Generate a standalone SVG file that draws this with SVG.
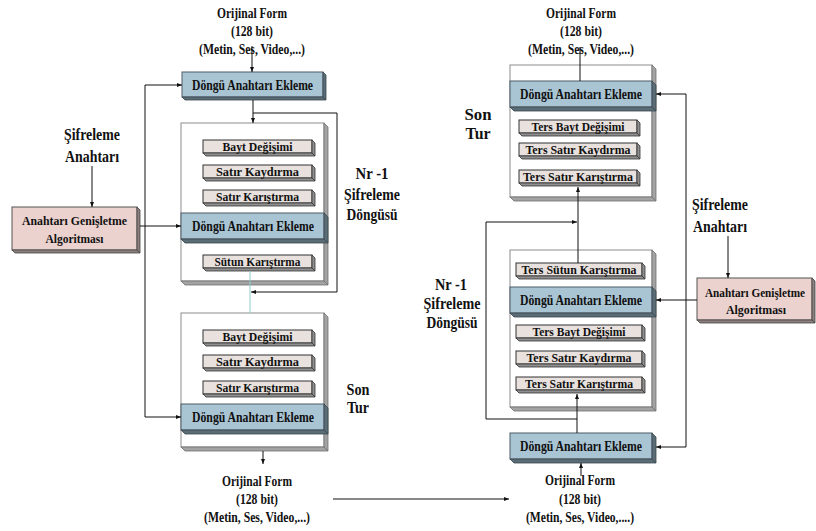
<svg xmlns="http://www.w3.org/2000/svg" width="816" height="531" viewBox="0 0 816 531">
  <style>
    text { font-family: "Liberation Serif", "Times New Roman", serif; font-weight: bold; fill: #111; text-anchor: middle; }
    .lbl { font-size: 16px; }
    .hdr { font-size: 15px; }
    .dk { font-size: 14px; }
    .sm { font-size: 12.5px; }
    .frame rect { fill: #ffffff; stroke: #8c8c8c; stroke-width: 1; }
    .frame polygon { fill: #a3a3a3; stroke: #6e6e6e; stroke-width: 0.8; }
    .round rect { fill: #a9c5d4; stroke: #4c5d66; stroke-width: 1; }
    .round polygon { fill: #5a6c76; stroke: #3a474e; stroke-width: 0.8; }
    .step rect { fill: #e8e1de; stroke: #333; stroke-width: 1; }
    .step polygon { fill: #8f8f8f; stroke: #333; stroke-width: 0.8; }
    .key rect { fill: #ebd2ce; stroke: #555; stroke-width: 1; }
    .key polygon { fill: #8c7f7d; stroke: #444; stroke-width: 0.8; }
    .conn path, .conn line { fill: none; stroke: #111; stroke-width: 1; }
    .conn .teal { stroke: #8fcfcf; stroke-width: 1; }
  </style>
  <defs>
    <marker id="arr" viewBox="0 0 5 4" refX="5" refY="2" markerWidth="5" markerHeight="4" markerUnits="userSpaceOnUse" orient="auto">
      <path d="M0,0 L5,2 L0,4 z" fill="#111"/>
    </marker>
  </defs>

  <!-- ===== Encryption (left) ===== -->
  <g id="enc-input">
    <text class="hdr" x="252" y="18" textLength="70" lengthAdjust="spacingAndGlyphs">Orijinal Form</text>
    <text class="hdr" x="252" y="36" textLength="42" lengthAdjust="spacingAndGlyphs">(128 bit)</text>
    <text class="hdr" x="252" y="54" textLength="106" lengthAdjust="spacingAndGlyphs">(Metin, Ses, Video,...)</text>
  </g>

  <g id="enc-initial-round" class="round">
    <rect x="182" y="72" width="141" height="25"/>
    <polygon points="323,72 326,75 326,100 323,97"/>
    <polygon points="182,97 323,97 326,100 185,100"/>
    <text class="dk" x="252.5" y="89.5" textLength="121" lengthAdjust="spacingAndGlyphs">Döngü Anahtarı Ekleme</text>
  </g>

  <g id="enc-main-rounds">
    <g class="frame">
      <rect x="181" y="123" width="143" height="158"/>
      <polygon points="324,123 328,127 328,285 324,281"/>
      <polygon points="181,281 324,281 328,285 185,285"/>
    </g>
    <g class="step">
      <rect x="203" y="140" width="109" height="13"/>
      <polygon points="312,140 315,143 315,156 312,153"/>
      <polygon points="203,153 312,153 315,156 206,156"/>
      <text class="sm" x="257.5" y="151" textLength="70" lengthAdjust="spacingAndGlyphs">Bayt Değişimi</text>
    </g>
    <g class="step">
      <rect x="203" y="165" width="109" height="13"/>
      <polygon points="312,165 315,168 315,181 312,178"/>
      <polygon points="203,178 312,178 315,181 206,181"/>
      <text class="sm" x="257.5" y="176" textLength="83" lengthAdjust="spacingAndGlyphs">Satır Kaydırma</text>
    </g>
    <g class="step">
      <rect x="203" y="190" width="109" height="13"/>
      <polygon points="312,190 315,193 315,206 312,203"/>
      <polygon points="203,203 312,203 315,206 206,206"/>
      <text class="sm" x="257.5" y="201" textLength="83" lengthAdjust="spacingAndGlyphs">Satır Karıştırma</text>
    </g>
    <g class="round">
      <rect x="181" y="213" width="143" height="26"/>
      <polygon points="324,213 328,217 328,243 324,239"/>
      <polygon points="181,239 324,239 328,243 185,243"/>
      <text class="dk" x="253" y="230.5" textLength="122" lengthAdjust="spacingAndGlyphs">Döngü Anahtarı Ekleme</text>
    </g>
    <g class="step">
      <rect x="203" y="255" width="109" height="13"/>
      <polygon points="312,255 315,258 315,271 312,268"/>
      <polygon points="203,268 312,268 315,271 206,271"/>
      <text class="sm" x="257.5" y="266" textLength="86" lengthAdjust="spacingAndGlyphs">Sütun Karıştırma</text>
    </g>
  </g>

  <g id="enc-final-round">
    <g class="frame">
      <rect x="181" y="313" width="143" height="134"/>
      <polygon points="324,313 328,317 328,451 324,447"/>
      <polygon points="181,447 324,447 328,451 185,451"/>
    </g>
    <g class="step">
      <rect x="203" y="330" width="109" height="13"/>
      <polygon points="312,330 315,333 315,346 312,343"/>
      <polygon points="203,343 312,343 315,346 206,346"/>
      <text class="sm" x="257.5" y="341" textLength="70" lengthAdjust="spacingAndGlyphs">Bayt Değişimi</text>
    </g>
    <g class="step">
      <rect x="203" y="355" width="109" height="13"/>
      <polygon points="312,355 315,358 315,371 312,368"/>
      <polygon points="203,368 312,368 315,371 206,371"/>
      <text class="sm" x="257.5" y="366" textLength="83" lengthAdjust="spacingAndGlyphs">Satır Kaydırma</text>
    </g>
    <g class="step">
      <rect x="203" y="381" width="109" height="13"/>
      <polygon points="312,381 315,384 315,397 312,394"/>
      <polygon points="203,394 312,394 315,397 206,397"/>
      <text class="sm" x="257.5" y="392" textLength="83" lengthAdjust="spacingAndGlyphs">Satır Karıştırma</text>
    </g>
    <g class="round">
      <rect x="181" y="404" width="143" height="26"/>
      <polygon points="324,404 328,408 328,434 324,430"/>
      <polygon points="181,430 324,430 328,434 185,434"/>
      <text class="dk" x="253" y="421.5" textLength="122" lengthAdjust="spacingAndGlyphs">Döngü Anahtarı Ekleme</text>
    </g>
  </g>

  <g id="enc-key-expansion" class="key">
    <rect x="12" y="207" width="125" height="43"/>
    <polygon points="137,207 140,210 140,253 137,250"/>
    <polygon points="12,250 137,250 140,253 15,253"/>
    <text class="sm" x="74.5" y="224.5" textLength="105" lengthAdjust="spacingAndGlyphs">Anahtarı Genişletme</text>
    <text class="sm" x="74.5" y="242.5" textLength="58" lengthAdjust="spacingAndGlyphs">Algoritması</text>
  </g>

  <g id="enc-labels">
    <text class="lbl" x="92" y="140" textLength="56" lengthAdjust="spacingAndGlyphs">Şifreleme</text>
    <text class="lbl" x="92" y="162" textLength="54" lengthAdjust="spacingAndGlyphs">Anahtarı</text>
    <text class="lbl" x="372" y="179" textLength="33" lengthAdjust="spacingAndGlyphs">Nr -1</text>
    <text class="lbl" x="372" y="200" textLength="56" lengthAdjust="spacingAndGlyphs">Şifreleme</text>
    <text class="lbl" x="372" y="220" textLength="51" lengthAdjust="spacingAndGlyphs">Döngüsü</text>
    <text class="lbl" x="358" y="395" textLength="23" lengthAdjust="spacingAndGlyphs">Son</text>
    <text class="lbl" x="358" y="413" textLength="22" lengthAdjust="spacingAndGlyphs">Tur</text>
  </g>

  <g id="enc-output">
    <text class="hdr" x="257" y="486" textLength="70" lengthAdjust="spacingAndGlyphs">Orijinal Form</text>
    <text class="hdr" x="257" y="504" textLength="42" lengthAdjust="spacingAndGlyphs">(128 bit)</text>
    <text class="hdr" x="257" y="522" textLength="106" lengthAdjust="spacingAndGlyphs">(Metin, Ses, Video,...)</text>
  </g>

  <!-- ===== Decryption (right) ===== -->
  <g id="dec-input">
    <text class="hdr" x="581" y="18" textLength="70" lengthAdjust="spacingAndGlyphs">Orijinal Form</text>
    <text class="hdr" x="581" y="36" textLength="42" lengthAdjust="spacingAndGlyphs">(128 bit)</text>
    <text class="hdr" x="581" y="54" textLength="106" lengthAdjust="spacingAndGlyphs">(Metin, Ses, Video,...)</text>
  </g>

  <g id="dec-final-round">
    <g class="frame">
      <rect x="510" y="65" width="142" height="132"/>
      <polygon points="652,65 656,69 656,201 652,197"/>
      <polygon points="510,197 652,197 656,201 514,201"/>
    </g>
    <g class="round">
      <rect x="510" y="81" width="142" height="26"/>
      <polygon points="652,81 656,85 656,111 652,107"/>
      <polygon points="510,107 652,107 656,111 514,111"/>
      <text class="dk" x="581" y="98.5" textLength="122" lengthAdjust="spacingAndGlyphs">Döngü Anahtarı Ekleme</text>
    </g>
    <g class="step">
      <rect x="519" y="120" width="118" height="13"/>
      <polygon points="637,120 640,123 640,136 637,133"/>
      <polygon points="519,133 637,133 640,136 522,136"/>
      <text class="sm" x="578" y="131" textLength="93" lengthAdjust="spacingAndGlyphs">Ters Bayt Değişimi</text>
    </g>
    <g class="step">
      <rect x="519" y="143" width="118" height="13"/>
      <polygon points="637,143 640,146 640,159 637,156"/>
      <polygon points="519,156 637,156 640,159 522,159"/>
      <text class="sm" x="578" y="154" textLength="105" lengthAdjust="spacingAndGlyphs">Ters Satır Kaydırma</text>
    </g>
    <g class="step">
      <rect x="519" y="170" width="118" height="13"/>
      <polygon points="637,170 640,173 640,186 637,183"/>
      <polygon points="519,183 637,183 640,186 522,186"/>
      <text class="sm" x="578" y="181" textLength="110" lengthAdjust="spacingAndGlyphs">Ters Satır Karıştırma</text>
    </g>
  </g>

  <g id="dec-main-rounds">
    <g class="frame">
      <rect x="510" y="250" width="142" height="157"/>
      <polygon points="652,250 656,254 656,411 652,407"/>
      <polygon points="510,407 652,407 656,411 514,411"/>
    </g>
    <g class="step">
      <rect x="516" y="263" width="126" height="13"/>
      <polygon points="642,263 645,266 645,279 642,276"/>
      <polygon points="516,276 642,276 645,279 519,279"/>
      <text class="sm" x="579" y="274" textLength="115" lengthAdjust="spacingAndGlyphs">Ters Sütun Karıştırma</text>
    </g>
    <g class="round">
      <rect x="510" y="287" width="142" height="26"/>
      <polygon points="652,287 656,291 656,317 652,313"/>
      <polygon points="510,313 652,313 656,317 514,317"/>
      <text class="dk" x="581" y="304.5" textLength="122" lengthAdjust="spacingAndGlyphs">Döngü Anahtarı Ekleme</text>
    </g>
    <g class="step">
      <rect x="516" y="325" width="126" height="13"/>
      <polygon points="642,325 645,328 645,341 642,338"/>
      <polygon points="516,338 642,338 645,341 519,341"/>
      <text class="sm" x="579" y="336" textLength="93" lengthAdjust="spacingAndGlyphs">Ters Bayt Değişimi</text>
    </g>
    <g class="step">
      <rect x="516" y="351" width="126" height="13"/>
      <polygon points="642,351 645,354 645,367 642,364"/>
      <polygon points="516,364 642,364 645,367 519,367"/>
      <text class="sm" x="579" y="362" textLength="105" lengthAdjust="spacingAndGlyphs">Ters Satır Kaydırma</text>
    </g>
    <g class="step">
      <rect x="516" y="377" width="126" height="13"/>
      <polygon points="642,377 645,380 645,393 642,390"/>
      <polygon points="516,390 642,390 645,393 519,393"/>
      <text class="sm" x="579" y="388" textLength="108" lengthAdjust="spacingAndGlyphs">Ters Satır Karıştırma</text>
    </g>
  </g>

  <g id="dec-initial-round" class="round">
    <rect x="510" y="433" width="142" height="26"/>
    <polygon points="652,433 656,437 656,463 652,459"/>
    <polygon points="510,459 652,459 656,463 514,463"/>
    <text class="dk" x="581" y="450.5" textLength="122" lengthAdjust="spacingAndGlyphs">Döngü Anahtarı Ekleme</text>
  </g>

  <g id="dec-key-expansion" class="key">
    <rect x="697" y="278" width="115" height="42"/>
    <polygon points="812,278 815,281 815,323 812,320"/>
    <polygon points="697,320 812,320 815,323 700,323"/>
    <text class="sm" x="755" y="296.5" textLength="100" lengthAdjust="spacingAndGlyphs">Anahtarı Genişletme</text>
    <text class="sm" x="756" y="313.5" textLength="60" lengthAdjust="spacingAndGlyphs">Algoritması</text>
  </g>

  <g id="dec-labels">
    <text class="lbl" x="478" y="120" textLength="27" lengthAdjust="spacingAndGlyphs">Son</text>
    <text class="lbl" x="478" y="139" textLength="25" lengthAdjust="spacingAndGlyphs">Tur</text>
    <text class="lbl" x="451" y="290" textLength="32" lengthAdjust="spacingAndGlyphs">Nr -1</text>
    <text class="lbl" x="452" y="309" textLength="57" lengthAdjust="spacingAndGlyphs">Şifreleme</text>
    <text class="lbl" x="452" y="328" textLength="51" lengthAdjust="spacingAndGlyphs">Döngüsü</text>
    <text class="lbl" x="720" y="210" textLength="56" lengthAdjust="spacingAndGlyphs">Şifreleme</text>
    <text class="lbl" x="720" y="232" textLength="54" lengthAdjust="spacingAndGlyphs">Anahtarı</text>
  </g>

  <g id="dec-output">
    <text class="hdr" x="580" y="485" textLength="70" lengthAdjust="spacingAndGlyphs">Orijinal Form</text>
    <text class="hdr" x="580" y="504" textLength="42" lengthAdjust="spacingAndGlyphs">(128 bit)</text>
    <text class="hdr" x="580" y="522" textLength="108" lengthAdjust="spacingAndGlyphs">(Metin, Ses, Video,....)</text>
  </g>

  <!-- ===== Connectors ===== -->
  <g id="connectors" class="conn">
    <!-- encryption data path -->
    <line x1="252" y1="46" x2="252" y2="72" marker-end="url(#arr)"/>
    <line x1="253" y1="100" x2="253" y2="123" marker-end="url(#arr)"/>
    <path d="M253,113 H337 V292 H251" marker-end="url(#arr)"/>
    <line class="teal" x1="250" y1="271" x2="250" y2="313"/>
    <line x1="263" y1="451" x2="263" y2="464" marker-end="url(#arr)"/>
    <!-- encryption round keys -->
    <line x1="92" y1="166" x2="92" y2="207" marker-end="url(#arr)"/>
    <line x1="145" y1="85" x2="145" y2="417"/>
    <line x1="145" y1="85" x2="182" y2="85" marker-end="url(#arr)"/>
    <line x1="140" y1="226" x2="181" y2="226" marker-end="url(#arr)"/>
    <line x1="145" y1="417" x2="181" y2="417" marker-end="url(#arr)"/>
    <!-- ciphertext handed over to decryption -->
    <line x1="333" y1="499" x2="509" y2="499" marker-end="url(#arr)"/>
    <!-- decryption data path -->
    <line x1="581" y1="476" x2="581" y2="463" marker-end="url(#arr)"/>
    <line x1="577" y1="433" x2="577" y2="394" marker-end="url(#arr)"/>
    <path d="M577,419 H486 V222 H577" marker-end="url(#arr)"/>
    <line x1="578" y1="263" x2="578" y2="187" marker-end="url(#arr)"/>
    <line x1="580" y1="47" x2="580" y2="81"/>
    <!-- decryption round keys -->
    <line x1="728" y1="236" x2="728" y2="278" marker-end="url(#arr)"/>
    <line x1="686" y1="94" x2="686" y2="447"/>
    <line x1="686" y1="94" x2="656" y2="94" marker-end="url(#arr)"/>
    <line x1="697" y1="300" x2="656" y2="300" marker-end="url(#arr)"/>
    <line x1="686" y1="447" x2="656" y2="447" marker-end="url(#arr)"/>
  </g>
</svg>
